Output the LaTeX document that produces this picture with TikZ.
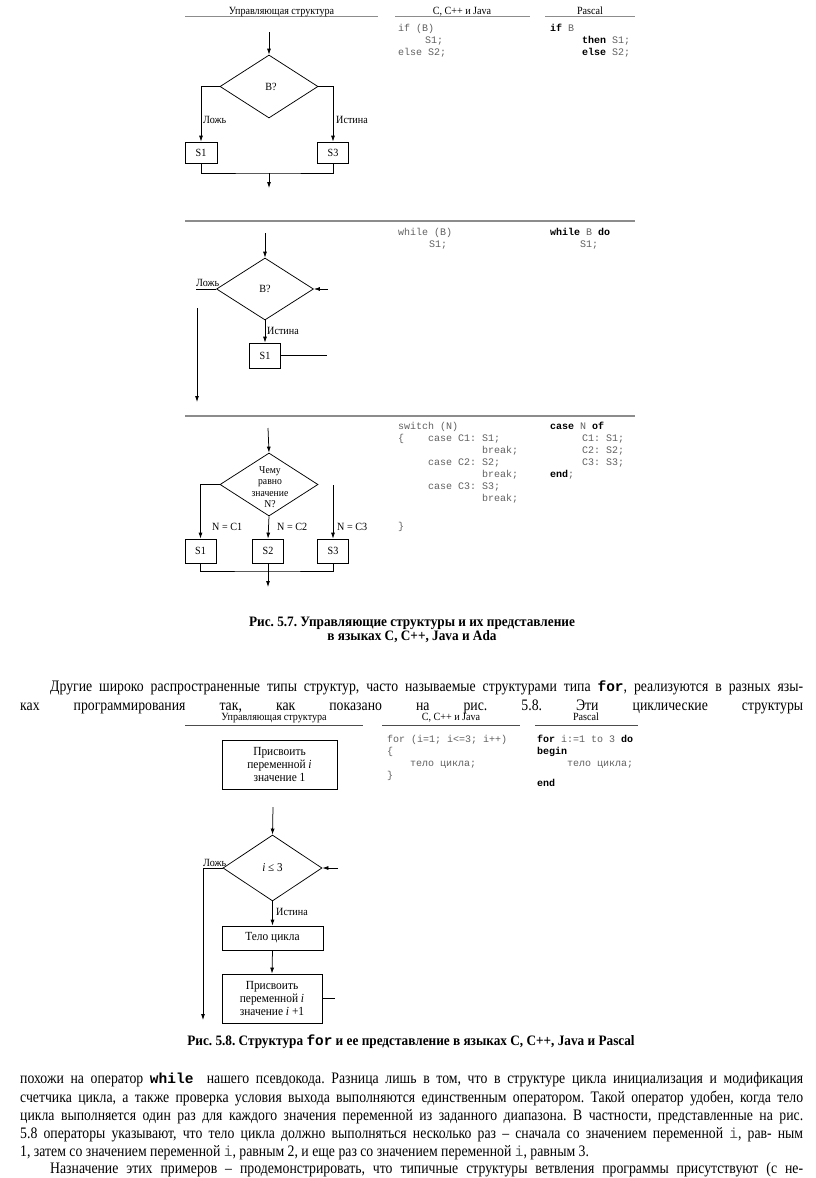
\documentclass[tikz,border=0pt]{standalone}
\usepackage{fontspec}
\setmainfont{Liberation Serif}
\setmonofont{Liberation Mono}
\newfontfamily\pagefont[FakeStretch=0.92]{Liberation Serif}
\newfontfamily\bodyfont[FakeStretch=0.86]{Liberation Serif}
\usetikzlibrary{shapes.geometric,arrows.meta}
\frenchspacing

\begin{document}
\begin{tikzpicture}[x=1pt,y=-1pt,
  >={Latex[length=6pt,width=4pt]},
  flowline/.style={line width=0.75pt},
  stmt/.style={draw,rectangle,line width=0.75pt,inner sep=0pt,align=center,
    font=\pagefont\fontsize{11}{12}\selectfont},
  bigstmt/.style={stmt,font=\pagefont\fontsize{12.4}{13}\selectfont},
  cond/.style={draw,diamond,line width=0.75pt,inner sep=0pt,
    font=\pagefont\fontsize{11}{12}\selectfont},
  lbl/.style={inner sep=0pt,font=\pagefont\fontsize{11}{12}\selectfont},
  colhead/.style={anchor=base,inner sep=0pt,font=\pagefont\fontsize{11}{12}\selectfont},
  code/.style={anchor=north west,inner sep=0pt,align=left,text=codegray,
    font=\ttfamily\fontsize{10}{12}\selectfont},
  bodyline/.style={anchor=west,inner sep=0pt,font=\bodyfont\fontsize{16}{19}\selectfont},
  caption/.style={inner sep=0pt,align=center,font=\pagefont\bfseries\fontsize{14.4}{14.5}\selectfont}]
% page sizes, 1pt = 1px
\def\fullw{783pt}
\def\indw{753pt}
\providecommand{\kw}[1]{{\color{black}\bfseries #1}}
\providecommand{\jline}[2]{\makebox[#1][s]{#2}}
\providecommand{\inl}[1]{{\ttfamily\fontsize{14.5}{19}\selectfont #1}}
\colorlet{codegray}{black!62}
\colorlet{rulegray}{black!45}
\useasboundingbox (0,0) rectangle (816,1178);
\fill[white] (0,0) rectangle (816,1178);

%% ---------------- Fig. 5.7 ----------------
% column heads
\begin{scope}[draw=rulegray, line width=1.6pt]
  \draw (185,16.5) -- (378,16.5);
  \draw (395,16.5) -- (530,16.5);
  \draw (545,16.5) -- (635,16.5);
  \draw (185,221) -- (635,221);
  \draw (185,416) -- (635,416);
\end{scope}
\node[colhead] (h1) at (281.5,14.5) {Управляющая структура};
\node[colhead] (h2) at (462,14.5) {C, C++ и Java};
\node[colhead] (h3) at (590,14.5) {Pascal};

% if -- flowchart
\coordinate (in1) at (269,32);
\node[cond, minimum width=98pt, minimum height=63pt] (d1) at (269,86.5) {\hspace*{4pt}B?};
\node[stmt, minimum width=32pt, minimum height=21pt] (s1a) at (201,152.5) {S1};
\node[stmt, minimum width=31pt, minimum height=21pt] (s3a) at (333,152.5) {S3};
\coordinate (j1) at (269,173);
\coordinate (out1) at (269,188);
\draw[flowline,->] (in1) -- (d1.north);
\draw[flowline,->] (d1.west) -| (s1a.north);
\draw[flowline,->] (d1.east) -| (s3a.north);
\draw[flowline] (s1a.south) |- (j1) -| (s3a.south);
\draw[flowline,->] (j1) -- (out1);
\node[lbl, anchor=west] (f1) at (203,120) {Ложь};
\node[lbl, anchor=west] (t1) at (336,120) {Истина};
% if -- code
\node[code] (cc1) at (398,24) {if (B)\\\hspace*{27pt}S1;\\else S2;};
\node[code] (pc1) at (550,24) {\kw{if} B\\\hspace*{32pt}\kw{then} S1;\\\hspace*{32pt}\kw{else} S2;};

% while -- flowchart
\coordinate (in2) at (265,233);
\node[cond, minimum width=97pt, minimum height=62pt] (d2) at (265,289) {B?};
\node[stmt, minimum width=31pt, minimum height=25pt] (s1b) at (265,355.5) {S1};
\coordinate (back2) at (328,289);
\coordinate (f2) at (196,289);
\coordinate (fa2) at (197,308);
\coordinate (fb2) at (197,402);
\coordinate (ret2) at (327,355.5);
\draw[flowline,->] (in2) -- (d2.north);
\draw[flowline,->] (back2) -- (d2.east);
\draw[flowline] (d2.west) -- (f2);
\draw[flowline,->] (fa2) -- (fb2);
\draw[flowline,->] (d2.south) -- (s1b.north);
\draw[flowline] (s1b.east) -- (ret2);
\node[lbl, anchor=base west] (f2l) at (196,286.5) {Ложь};
\node[lbl, anchor=west] (t2) at (267,331) {Истина};
% while -- code
\node[code] (cc2) at (398,228) {while (B)\\\hspace*{31pt}S1;};
\node[code] (pc2) at (550,228) {\kw{while} B \kw{do}\\\hspace*{30pt}S1;};

% switch -- flowchart
\coordinate (in3) at (268,428);
\node[cond, minimum width=98pt, minimum height=63pt] (d3) at (269,484.5) {};
\node[lbl, align=center, font=\pagefont\fontsize{10.5}{11.5}\selectfont] (q3) at (270,487)
  {Чему\\равно\\значение\\N?};
\node[stmt, minimum width=31pt, minimum height=24pt] (s1c) at (200.5,551) {S1};
\node[stmt, minimum width=31pt, minimum height=24pt] (s2c) at (268,551) {S2};
\node[stmt, minimum width=31pt, minimum height=24pt] (s3c) at (333,551) {S3};
\coordinate (r3) at (333,485);
\coordinate (j3) at (268,571);
\coordinate (out3) at (268,587);
\draw[flowline,->] (in3) -- (d3.north);
\draw[flowline,->] (d3.west) -| (s1c.north);
\draw[flowline,->] (d3.south) -- (s2c.north);
\draw[flowline,->] (r3) -- (s3c.north);
\draw[flowline] (s1c.south) |- (j3) -| (s3c.south);
\draw[flowline,->] (s2c.south) -- (out3);
\node[lbl, anchor=west] (n1) at (212,527) {N = C1};
\node[lbl, anchor=west] (n2) at (277,527) {N = C2};
\node[lbl, anchor=west] (n3) at (337,527) {N = C3};
% switch -- code
\node[code] (cc3) at (398,422) {switch (N)\\
  \{\hspace*{24pt}case C1: S1;\\
  \hspace*{84pt}break;\\
  \hspace*{30pt}case C2: S2;\\
  \hspace*{84pt}break;\\
  \hspace*{30pt}case C3: S3;\\
  \hspace*{84pt}break;\\[16pt]
  \}};
\node[code] (pc3) at (550,422) {\kw{case} N \kw{of}\\
  \hspace*{32pt}C1: S1;\\
  \hspace*{32pt}C2: S2;\\
  \hspace*{32pt}C3: S3;\\
  \kw{end};};

\node[caption] (cap1) at (412,630) {Рис. 5.7. Управляющие структуры и их представление\\
  в языках C, C++, Java и Ada};

%% ---------------- text between ----------------
\node[bodyline] (p1) at (50,688) {\jline{\indw}{Другие широко распространенные типы структур, часто называемые структурами типа \inl{\bfseries for}, реализуются в разных язы-}};
\node[bodyline] (p2) at (20,706.5) {\jline{\fullw}{ках программирования так, как показано на рис. 5.8. Эти циклические структуры}};

%% ---------------- Fig. 5.8 ----------------
\begin{scope}[draw=black!70, line width=1pt]
  \draw (185,725) -- (363,725);
  \draw (382,725) -- (520,725);
  \draw (535,725) -- (638,725);
\end{scope}
\node[colhead] (g1) at (274,720) {Управляющая структура};
\node[colhead] (g2) at (451,720) {C, C++ и Java};
\node[colhead] (g3) at (586,720) {Pascal};

% for -- flowchart
\node[bigstmt, minimum width=115pt, minimum height=49pt] (p4) at (279.5,764.5)
  {Присвоить\\переменной \textit{i}\\значение 1};
\coordinate (in4) at (273,807);
\node[cond, minimum width=99pt, minimum height=66pt, font=\pagefont\fontsize{12}{13}\selectfont]
  (d4) at (272.5,868) {\textit{i} ≤ 3};
\node[bigstmt, minimum width=101pt, minimum height=24pt] (t4) at (272.5,938) {Тело цикла};
\node[bigstmt, minimum width=100pt, minimum height=49pt] (u4) at (272,998.5)
  {Присвоить\\переменной \textit{i}\\значение \textit{i} +1};
\coordinate (back4) at (338,868);
\coordinate (f4) at (203,1020);
\coordinate (ret4) at (335,998.5);
\draw[flowline,->] (in4) -- (d4.north);
\draw[flowline,->] (back4) -- (d4.east);
\draw[flowline,->] (d4.west) -| (f4);
\draw[flowline,->] (d4.south) -- (t4.north);
\draw[flowline,->] (t4.south) -- (u4.north);
\draw[flowline] (u4.east) -- (ret4);
\node[lbl, anchor=base west] (f4l) at (203,866) {Ложь};
\node[lbl, anchor=west] (t4l) at (276,912) {Истина};
% for -- code
\node[code] (cc4) at (387,735) {for (i=1; i<=3; i++)\\
  \{\\
  \hspace*{23pt}тело цикла;\\
  \}};
\node[code] (pc4) at (537,735) {\kw{for} i:=1 to 3 \kw{do}\\
  \kw{begin}\\
  \hspace*{30pt}тело цикла;\\[8pt]
  \kw{end}};

\node[caption] (cap2) at (411,1042) {Рис. 5.8. Структура \texttt{for} и ее представление в языках C, C++, Java и Pascal};

%% ---------------- text below ----------------
\node[bodyline] (b1) at (20,1080) {\jline{\fullw}{похожи на оператор \inl{\bfseries while}\ \ нашего псевдокода. Разница лишь в том, что в структуре цикла инициализация и модификация}};
\node[bodyline] (b2) at (20,1098.5) {\jline{\fullw}{счетчика цикла, а также проверка условия выхода выполняются единственным оператором. Такой оператор удобен, когда тело}};
\node[bodyline] (b3) at (20,1117) {\jline{\fullw}{цикла выполняется один раз для каждого значения переменной из заданного диапазона. В частности, представленные на рис.}};
\node[bodyline] (b4) at (20,1135) {\jline{\fullw}{5.8 операторы указывают, что тело цикла должно выполняться несколько раз – сначала со значением переменной \inl{\color{codegray}i}, рав- ным}};
\node[bodyline] (b5) at (20,1153) {1, затем со значением переменной \inl{\color{codegray}i}, равным 2, и еще раз со значением переменной \inl{\color{codegray}i}, равным 3.};
\node[bodyline] (b6) at (50,1170) {\jline{\indw}{Назначение этих примеров – продемонстрировать, что типичные структуры ветвления программы присутствуют (с не-}};
\end{tikzpicture}
\end{document}
